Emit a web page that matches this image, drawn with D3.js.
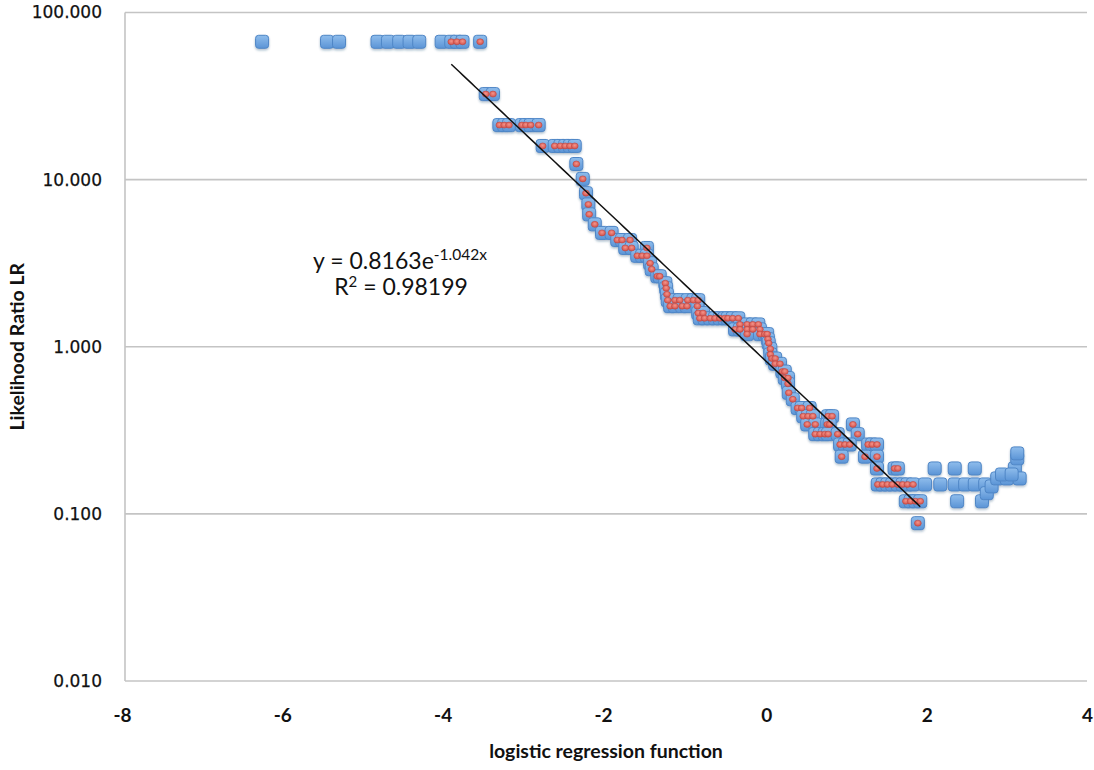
<!DOCTYPE html>
<html>
<head>
<meta charset="utf-8">
<script src="https://cdn.jsdelivr.net/npm/d3@7/dist/d3.min.js"></script>
<style>
  html, body { margin: 0; padding: 0; background: #fff; }
  svg { display: block; }
</style>
</head>
<body>
<svg id="chart" width="1094" height="770"></svg>
<script>
// Likelihood ratio (LR) against the logistic regression score.
// Each entry of ratioLevels is one LR value; scoresAtLevel lists the scores observed at it.
const ratioLevels = [
  66.8, 32.5, 21.2, 15.9, 12.4, 10.1, 8.3, 7.1, 6.2, 5.4, 4.8, 4.35, 3.9, 3.5,
  3.16, 2.91, 2.64, 2.40, 2.24, 2.06, 1.90, 1.75, 1.59, 1.48, 1.36, 1.27, 1.19,
  1.11, 1.05, 0.97, 0.90, 0.85, 0.79, 0.71, 0.65, 0.60, 0.53, 0.485, 0.43, 0.384,
  0.343, 0.30, 0.26, 0.22, 0.187, 0.150, 0.119, 0.088,
  0.133, 0.146, 0.163, 0.172, 0.215, 0.23
];
const scoresAtLevel = [
  [-6.29, -5.48, -5.33, -4.85, -4.72, -4.58, -4.45, -4.33, -4.05, -3.93, -3.86, -3.79, -3.57],
  [-3.50, -3.41],
  [-3.33, -3.27, -3.21, -3.05, -3.00, -2.94, -2.84],
  [-2.79, -2.64, -2.57, -2.51, -2.45, -2.39],
  [-2.37],
  [-2.29],
  [-2.25],
  [-2.22],
  [-2.21],
  [-2.14],
  [-2.05, -1.93],
  [-1.86, -1.80, -1.70],
  [-1.76, -1.68, -1.49],
  [-1.61, -1.55, -1.49],
  [-1.45],
  [-1.43],
  [-1.36, -1.33],
  [-1.26],
  [-1.25],
  [-1.24],
  [-1.23, -1.14, -1.08, -0.98, -0.91, -0.85],
  [-1.20, -1.14, -1.05, -0.99, -0.86],
  [-0.85, -0.79],
  [-0.83, -0.77, -0.70, -0.64, -0.58, -0.52, -0.48, -0.42, -0.35],
  [-0.33, -0.24, -0.17, -0.10],
  [-0.39, -0.33, -0.24, -0.17, -0.08],
  [-0.24, -0.08, -0.02, 0.01],
  [0.02],
  [0.03],
  [0.05],
  [0.05],
  [0.07, 0.11],
  [0.11, 0.17],
  [0.20, 0.23],
  [0.23, 0.27],
  [0.27],
  [0.28],
  [0.33],
  [0.39, 0.44, 0.54],
  [0.46, 0.52, 0.58, 0.77, 0.82],
  [0.51, 0.61, 0.76, 0.79, 1.08],
  [0.61, 0.67, 0.73, 0.77, 0.89, 1.14],
  [0.92, 0.98, 1.04, 1.27, 1.32, 1.38],
  [0.94, 1.23, 1.38],
  [1.38, 1.60, 1.64, 2.10, 2.35, 2.60, 3.10],
  [1.39, 1.45, 1.51, 1.57, 1.64, 1.70, 1.76, 1.83, 1.98, 2.17, 2.35, 2.48, 2.60, 2.73],
  [1.74, 1.80, 1.86, 1.92, 2.38, 2.69],
  [1.89],
  [2.75],
  [2.81],
  [2.88, 3.00, 3.16],
  [2.94, 3.06],
  [3.13],
  [3.13]
];

// Points inside this score range form the fitted subset (red markers)
const fitRange = [-3.93, 1.92];
// Exponential trendline y = a·e^(b·x)
const fitA = 0.8163;
const fitB = -1.042;
const fitR2 = 0.98199;

const xTicks = [-8, -6, -4, -2, 0, 2, 4];
const yTicks = [0.01, 0.1, 1, 10, 100];

const allPoints = [];
ratioLevels.forEach((lr, i) => {
  scoresAtLevel[i].forEach(s => allPoints.push({ score: s, lr: lr }));
});
const fittedPoints = allPoints.filter(p => p.score >= fitRange[0] - 1e-9 && p.score <= fitRange[1] + 1e-9);

const svg = d3.select("#chart");
const plot = { left: 125, right: 1087, top: 12.5, bottom: 681 };

const x = d3.scaleLinear().domain([-8, 4]).range([plot.left, plot.right]);
const y = d3.scaleLog().domain([0.01, 100]).range([plot.bottom, plot.top]);

// Marker styling
const defs = svg.append("defs");
const blueGrad = defs.append("linearGradient").attr("id", "blueFill")
  .attr("x1", 0).attr("y1", 0).attr("x2", 0).attr("y2", 1);
blueGrad.append("stop").attr("offset", "0%").attr("stop-color", "#8fbdec");
blueGrad.append("stop").attr("offset", "100%").attr("stop-color", "#5b94d6");
const redGrad = defs.append("radialGradient").attr("id", "redFill")
  .attr("cx", "50%").attr("cy", "40%").attr("r", "60%");
redGrad.append("stop").attr("offset", "0%").attr("stop-color", "#f4948a");
redGrad.append("stop").attr("offset", "100%").attr("stop-color", "#d2504a");
const shadow = defs.append("filter").attr("id", "soft")
  .attr("x", "-50%").attr("y", "-50%").attr("width", "200%").attr("height", "200%");
shadow.append("feGaussianBlur").attr("in", "SourceGraphic").attr("stdDeviation", 0.5).attr("result", "b");
shadow.append("feDropShadow").attr("in", "b").attr("dx", 0).attr("dy", 1.5)
  .attr("stdDeviation", 1.3).attr("flood-color", "#1d3f6b").attr("flood-opacity", 0.35);

// Gridlines and axis lines
const grid = svg.append("g");
grid.selectAll("line.h").data(yTicks.filter(t => t > 0.01)).join("line")
  .attr("x1", plot.left).attr("x2", plot.right)
  .attr("y1", d => y(d)).attr("y2", d => y(d))
  .attr("stroke", "#c4c4c4").attr("stroke-width", 1.6);
grid.append("line")
  .attr("x1", plot.left).attr("x2", plot.right)
  .attr("y1", y(0.01)).attr("y2", y(0.01))
  .attr("stroke", "#c4c4c4").attr("stroke-width", 1.6);
grid.append("line")
  .attr("x1", plot.left).attr("x2", plot.left)
  .attr("y1", y(100)).attr("y2", y(0.01))
  .attr("stroke", "#c4c4c4").attr("stroke-width", 1.6);

// Y axis labels
const yAxis = d3.axisLeft(y).tickValues(yTicks).tickSize(0).tickPadding(23)
  .tickFormat(d3.format(".3f"));
const yg = svg.append("g").attr("transform", `translate(${plot.left},0)`).call(yAxis);
yg.select(".domain").remove();
yg.selectAll("text")
  .attr("font-family", "'DejaVu Sans', sans-serif").attr("font-size", 17)
  .attr("fill", "#111").attr("stroke", "#111").attr("stroke-width", 0.25);

// X axis labels (plain hyphen for negatives)
const xAxis = d3.axisBottom(x).tickValues(xTicks).tickSize(0).tickPadding(0)
  .tickFormat(d => String(d));
const xg = svg.append("g").attr("transform", `translate(0,${plot.bottom + 27})`).call(xAxis);
xg.select(".domain").remove();
xg.selectAll("text")
  .attr("font-family", "Lato, sans-serif").attr("font-weight", "bold")
  .attr("font-size", 19).attr("fill", "#111").attr("dx", d => d < 0 ? -3 : 0);

// Axis titles
svg.append("text")
  .attr("x", (plot.left + plot.right) / 2).attr("y", 758)
  .attr("text-anchor", "middle")
  .attr("font-family", "Lato, sans-serif").attr("font-weight", "bold")
  .attr("font-size", 19.5).attr("fill", "#111")
  .text("logistic regression function");
svg.append("text")
  .attr("transform", `translate(24,${(plot.top + plot.bottom) / 2}) rotate(-90)`)
  .attr("text-anchor", "middle")
  .attr("font-family", "Lato, sans-serif").attr("font-weight", "bold")
  .attr("font-size", 19.5).attr("fill", "#111")
  .text("Likelihood Ratio LR");

// All observations: blue squares
const sq = 13;
svg.append("g").attr("filter", "url(#soft)")
  .selectAll("rect").data(allPoints).join("rect")
  .attr("x", d => x(d.score) - sq / 2)
  .attr("y", d => y(d.lr) - sq / 2)
  .attr("width", sq).attr("height", sq).attr("rx", 3)
  .attr("fill", "url(#blueFill)")
  .attr("stroke", "#4f86c6").attr("stroke-width", 1);

// Fitted subset: red dots
svg.append("g")
  .selectAll("ellipse").data(fittedPoints).join("ellipse")
  .attr("cx", d => x(d.score)).attr("cy", d => y(d.lr))
  .attr("rx", 3.4).attr("ry", 3)
  .attr("fill", "url(#redFill)")
  .attr("stroke", "#c0473f").attr("stroke-width", 0.6);

// Exponential trendline over the fitted range
const trendX = d3.range(fitRange[0], fitRange[1] + 0.0001, 0.05);
if (trendX[trendX.length - 1] < fitRange[1]) trendX.push(fitRange[1]);
svg.append("path")
  .datum(trendX)
  .attr("fill", "none").attr("stroke", "#111").attr("stroke-width", 1.5)
  .attr("d", d3.line().x(d => x(d)).y(d => y(fitA * Math.exp(fitB * d))));

// Trendline equation
const eq = svg.append("text")
  .attr("x", 400).attr("y", 269).attr("text-anchor", "middle")
  .attr("font-family", "Lato, sans-serif").attr("font-size", 23).attr("fill", "#111");
eq.append("tspan").text(`y = ${fitA}e`);
eq.append("tspan").attr("dy", -9).attr("font-size", 15.5).text(`${fitB}x`);
const r2 = svg.append("text")
  .attr("x", 401).attr("y", 295).attr("text-anchor", "middle")
  .attr("font-family", "Lato, sans-serif").attr("font-size", 23).attr("fill", "#111");
r2.append("tspan").text("R");
r2.append("tspan").attr("dy", -8).attr("font-size", 15).text("2");
r2.append("tspan").attr("dy", 8).text(` = ${fitR2}`);
</script>
</body>
</html>
